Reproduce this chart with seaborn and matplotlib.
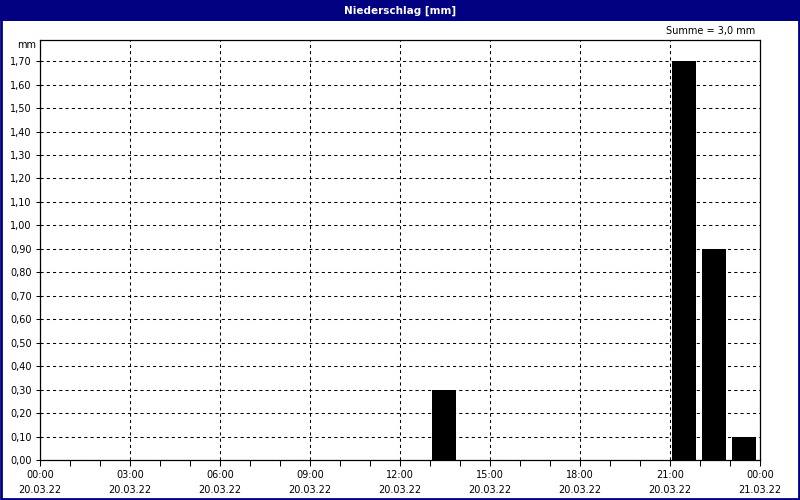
import numpy as np
import pandas as pd
import seaborn as sns
import matplotlib
matplotlib.use("Agg")
import matplotlib.pyplot as plt
from matplotlib.patches import Rectangle

# Daten: Stundensummen Niederschlag (Stunde des Beginns, Wert in mm)
stunden = [13, 21, 22, 23]
niederschlag = [0.30, 1.70, 0.90, 0.10]
tick_zeiten = ["00:00", "03:00", "06:00", "09:00", "12:00", "15:00", "18:00", "21:00", "00:00"]
tick_daten = ["20.03.22"] * 8 + ["21.03.22"]
y_werte = [i / 10 for i in range(18)]

sns.set_style("white")
plt.rcParams['font.family'] = ['DejaVu Sans']
plt.rcParams['text.color'] = 'black'
plt.rcParams['xtick.color'] = 'black'
plt.rcParams['ytick.color'] = 'black'

df = pd.DataFrame({"mitte": [h + 0.47 for h in stunden], "mm": niederschlag})

fig = plt.figure(figsize=(8, 5), dpi=100, facecolor="white")
ax = fig.add_axes([0.05, 0.08, 0.90, 0.84])

sns.barplot(data=df, x="mitte", y="mm", native_scale=True, color="black",
            saturation=1, width=0.8, linewidth=0, ax=ax, zorder=3)

# Achsen
ax.set_xlim(0, 24)
ax.set_ylim(0, 1.79)
ax.set_xticks(range(0, 25, 3))
ax.set_xticklabels([z + "\n" + d for z, d in zip(tick_zeiten, tick_daten)],
                   fontsize=7, linespacing=1.6)
ax.set_xticks(range(0, 25), minor=True)
ax.set_yticks(y_werte)
ax.set_yticklabels([f"{v:.2f}".replace(".", ",") for v in y_werte], fontsize=7)
ax.tick_params(axis="x", which="both", direction="out", length=4, width=0.75,
               color="black", bottom=True, pad=3)
ax.tick_params(axis="y", direction="out", length=3, width=0.75, color="black",
               left=True, pad=3)
ax.set_xlabel("")
ax.set_ylabel("")
ax.grid(True, color="black", linestyle=(0, (3, 3)), linewidth=0.75, zorder=1)
ax.set_axisbelow(True)
for s in ax.spines.values():
    s.set_color("black")
    s.set_linewidth(0.9)
ax.set_facecolor("white")

# Rahmen und Titelleiste
fig.patches.append(Rectangle((0, 0.958), 1, 0.042, transform=fig.transFigure,
                             facecolor="#000080", edgecolor="none", zorder=0))
fig.patches.append(Rectangle((0.001, 0.002), 0.998, 0.996, transform=fig.transFigure,
                             facecolor="none", edgecolor="#000080", linewidth=2, zorder=5))
fig.text(0.5, 0.979, "Niederschlag [mm]", color="white", fontsize=7.5,
         fontweight="bold", ha="center", va="center")

summe = sum(niederschlag)
fig.text(0.944, 0.938, f"Summe = {summe:.1f} mm".replace(".", ","),
         fontsize=7, ha="right", va="center")
fig.text(0.045, 0.91, "mm", fontsize=7, ha="right", va="center")

fig.savefig("out.png", dpi=100, facecolor=fig.get_facecolor())
